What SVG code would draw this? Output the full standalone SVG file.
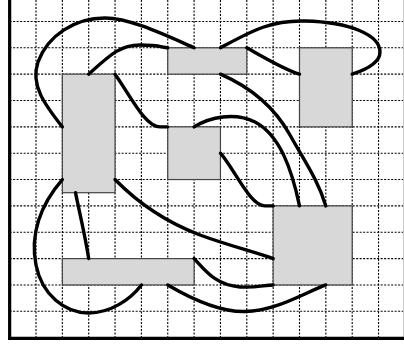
<svg xmlns="http://www.w3.org/2000/svg" width="404" height="347" viewBox="0 0 404 347">
<style>
.grid line{stroke:#000;stroke-width:1.1;stroke-dasharray:2 1.5}
.node rect{fill:#d8d8d8;stroke:#444;stroke-width:1.2}
.edge{fill:none;stroke:#000;stroke-width:3.4;stroke-linecap:round}
.frame{stroke:#000;stroke-width:3.2}
</style>
<rect width="404" height="347" fill="#fff"/>
<g class="grid">
<line x1="36" y1="0" x2="36" y2="337.6"/>
<line x1="62.35" y1="0" x2="62.35" y2="337.6"/>
<line x1="88.7" y1="0" x2="88.7" y2="337.6"/>
<line x1="115.05" y1="0" x2="115.05" y2="337.6"/>
<line x1="141.4" y1="0" x2="141.4" y2="337.6"/>
<line x1="167.75" y1="0" x2="167.75" y2="337.6"/>
<line x1="194.1" y1="0" x2="194.1" y2="337.6"/>
<line x1="220.45" y1="0" x2="220.45" y2="337.6"/>
<line x1="246.8" y1="0" x2="246.8" y2="337.6"/>
<line x1="273.15" y1="0" x2="273.15" y2="337.6"/>
<line x1="299.5" y1="0" x2="299.5" y2="337.6"/>
<line x1="325.85" y1="0" x2="325.85" y2="337.6"/>
<line x1="352.2" y1="0" x2="352.2" y2="337.6"/>
<line x1="378.55" y1="0" x2="378.55" y2="337.6"/>
<line x1="9.65" y1="21.45" x2="403" y2="21.45"/>
<line x1="9.65" y1="47.8" x2="403" y2="47.8"/>
<line x1="9.65" y1="74.15" x2="403" y2="74.15"/>
<line x1="9.65" y1="100.5" x2="403" y2="100.5"/>
<line x1="9.65" y1="126.85" x2="403" y2="126.85"/>
<line x1="9.65" y1="153.2" x2="403" y2="153.2"/>
<line x1="9.65" y1="179.55" x2="403" y2="179.55"/>
<line x1="9.65" y1="205.9" x2="403" y2="205.9"/>
<line x1="9.65" y1="232.25" x2="403" y2="232.25"/>
<line x1="9.65" y1="258.6" x2="403" y2="258.6"/>
<line x1="9.65" y1="284.95" x2="403" y2="284.95"/>
<line x1="9.65" y1="311.3" x2="403" y2="311.3"/>
</g>
<line x1="403.5" y1="0" x2="403.5" y2="337" stroke="#c8c8c8" stroke-width="1"/>
<line class="frame" x1="9.65" y1="0" x2="9.65" y2="339.6"/>
<line class="frame" x1="8" y1="338.3" x2="404" y2="338.3"/>
<g id="n1" class="node"><rect x="62.35" y="74.15" width="52.7" height="118.55"/></g>
<g id="n2" class="node"><rect x="167.75" y="47.8" width="79.05" height="26.35"/></g>
<g id="n3" class="node"><rect x="299.5" y="47.8" width="52.7" height="79.05"/></g>
<g id="n4" class="node"><rect x="167.75" y="126.85" width="52.7" height="52.7"/></g>
<g id="n5" class="node"><rect x="273.15" y="205.9" width="79.05" height="79.05"/></g>
<g id="n6" class="node"><rect x="62.35" y="258.6" width="131.75" height="26.35"/></g>
<g id="connectors">
<path class="edge" d="M62.35,126.85 C45,105 30,85 38,62 C48,35 75,18 105,18 C130,18 165,35 194.1,47.8"/>
<path class="edge" d="M88.7,74.15 C110,55 120,45 140,45 S160,47 167.75,47.8"/>
<path class="edge" d="M115.05,74.15 C130,95 145,126.85 160,126.85 L167.75,126.85"/>
<path class="edge" d="M194.1,126.85 C210,117 235,112 255,122 C280,135 292,170 299.5,205.9"/>
<path class="edge" d="M220.45,74.15 C250,87 275,108 290,135 C305,162 318,180 325.85,205.9"/>
<path class="edge" d="M220.45,47.8 C250,32 270,20 305,21 C350,22 380,35 380,52 C380,63 365,70 352.2,74.15"/>
<path class="edge" d="M246.8,47.8 C265,58 285,70 299.5,74.15"/>
<path class="edge" d="M220.45,153.2 C235,170 250,205.9 265,205.9 L273.15,205.9"/>
<path class="edge" d="M115.05,179.55 C135,200 160,220 200,235 C230,246 255,252 273.15,258.6"/>
<path class="edge" d="M75.5,192.7 C80,215 85,235 88.7,258.6"/>
<path class="edge" d="M62.35,179.55 C40,205 30,235 36,265 C42,295 65,313 88.7,313 C110,313 130,300 141.4,284.95"/>
<path class="edge" d="M194.1,258.6 C205,270 215,285 240,287 C255,288 265,285 273.15,284.95"/>
<path class="edge" d="M167.75,284.95 C190,298 220,312 245,311.5 C275,311 300,295 325.85,284.95"/>
</g>
</svg>
